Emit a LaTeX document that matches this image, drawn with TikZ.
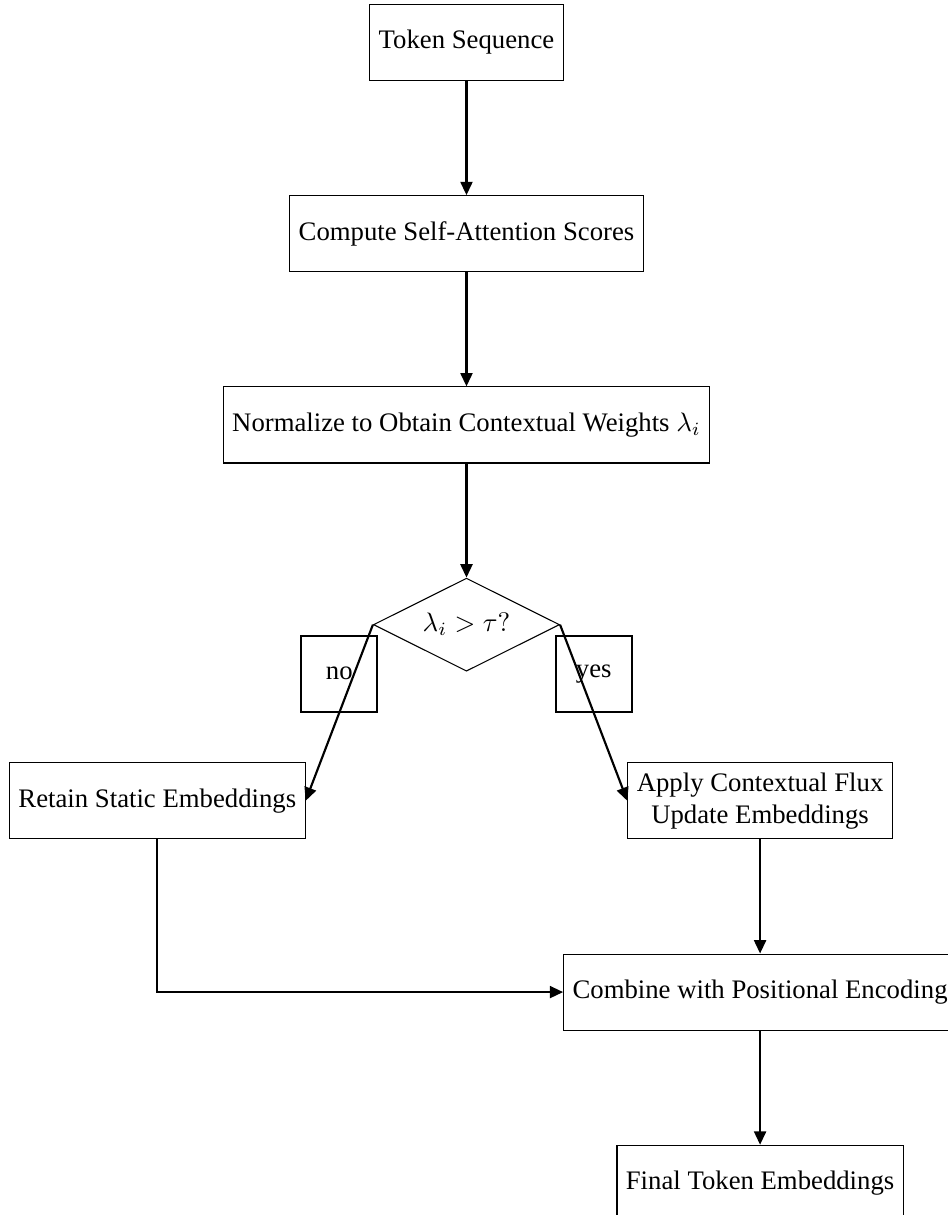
\documentclass[tikz,border=0pt]{standalone}
\usepackage{fontspec}
\setmainfont{Liberation Serif}
\usetikzlibrary{shapes.geometric}
\usetikzlibrary{arrows.meta}
\usetikzlibrary{positioning}

\tikzset{
  process/.style={rectangle, draw, minimum height=1cm, align=center},
  decision/.style={diamond, draw, aspect=2},
  flowarrow/.style={thick, -{Triangle[length=5pt,width=4.5pt]}},
  branchlabel/.style={draw, minimum width=1cm, minimum height=1cm}
}

\begin{document}
\begin{tikzpicture}[node distance=1.5cm]
\useasboundingbox (-174.5pt,15.9pt) rectangle (180.1pt,-438.6pt);

\node (tok) [process] {Token Sequence};
\node (att) [process, below=of tok] {Compute Self-Attention Scores};
\node (norm) [process, below=of att] {Normalize to Obtain Contextual Weights $\lambda_i$};
\node (dec) [decision, below=of norm] {$\lambda_i > \tau?$};
\node (keep) [process, below left=1.5cm and 1.5cm of dec] {Retain Static Embeddings};
\node (flux) [process, below right=1.5cm and 1.5cm of dec] {Apply Contextual Flux\\Update Embeddings};
\node (comb) [process, below=of flux] {Combine with Positional Encoding};
\node (fin) [process, below=of comb] {Final Token Embeddings};

\draw [flowarrow] (tok) -- (att);
\draw [flowarrow] (att) -- (norm);
\draw [flowarrow] (norm) -- (dec);
\draw [flowarrow] (dec.west) -- node[branchlabel, above] {no} (keep.east);
\draw [flowarrow] (dec.east) -- node[branchlabel, above] {yes} (flux.west);
\draw [flowarrow] (flux) -- (comb);
\draw [flowarrow] (keep) |- (comb);
\draw [flowarrow] (comb) -- (fin);

\end{tikzpicture}
\end{document}
